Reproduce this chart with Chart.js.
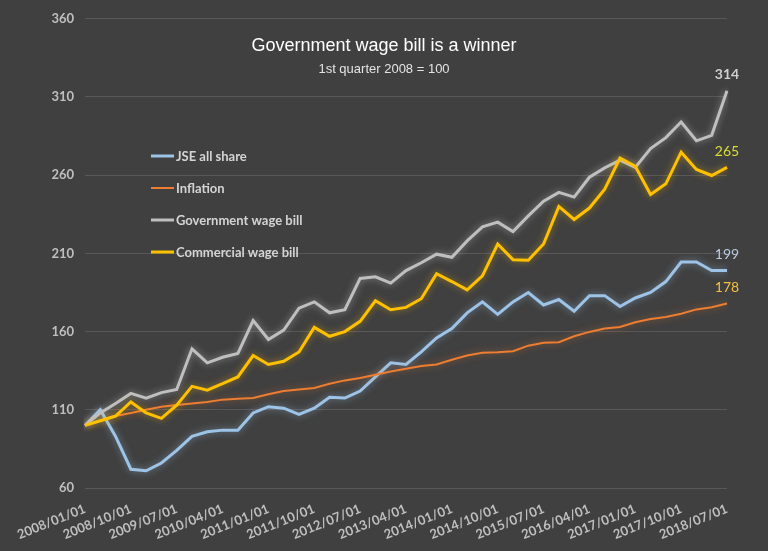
<!DOCTYPE html>
<html>
<head>
<meta charset="utf-8">
<script src="https://cdn.jsdelivr.net/npm/chart.js@4"></script>
<style>
  html, body { margin: 0; padding: 0; background: #404040; }
  #wrap { width: 768px; height: 551px; }
</style>
</head>
<body>
<div id="wrap"><canvas id="wageChart" width="768" height="551"></canvas></div>
<script>
// quarterly index, 1st quarter 2008 = 100
const quarters = [
  '2008/01/01','2008/04/01','2008/07/01','2008/10/01','2009/01/01','2009/04/01','2009/07/01','2009/10/01',
  '2010/01/01','2010/04/01','2010/07/01','2010/10/01','2011/01/01','2011/04/01','2011/07/01','2011/10/01',
  '2012/01/01','2012/04/01','2012/07/01','2012/10/01','2013/01/01','2013/04/01','2013/07/01','2013/10/01',
  '2014/01/01','2014/04/01','2014/07/01','2014/10/01','2015/01/01','2015/04/01','2015/07/01','2015/10/01',
  '2016/01/01','2016/04/01','2016/07/01','2016/10/01','2017/01/01','2017/04/01','2017/07/01','2017/10/01',
  '2018/01/01','2018/04/01','2018/07/01'
];

const jseAllShare = [100, 110, 93, 72, 71, 76, 84, 93, 96, 97, 97, 108, 112, 111, 107, 111,
  118, 117.5, 122, 131, 140, 139, 147, 156, 162, 172, 179, 171, 179, 185,
  177, 180.5, 173, 183, 183, 176, 181.5, 185, 192, 204.5, 204.5, 199, 199];

const inflation = [100, 103, 106, 108, 110, 112, 113, 114, 115, 116.5, 117, 117.5, 120, 122, 123, 124,
  126.7, 128.8, 130.3, 132.4, 134.5, 136.2, 138, 139, 142, 144.7, 146.4, 146.8, 147.5, 151,
  152.8, 153.2, 157, 159.8, 162, 163, 166, 168, 169.4, 171.4, 174.2, 175.6, 178];

const govWageBill = [100, 108, 114, 120.5, 117.5, 121, 123, 149, 140, 143.6, 146, 167, 155, 161, 175, 179,
  172, 174, 194, 195, 191, 199, 204, 209.5, 207.5, 218, 227, 230, 224, 234,
  243.4, 249, 246, 258.7, 264.7, 269.6, 265, 277, 284, 294, 282, 285.5, 314];

const commWageBill = [100, 103, 106, 115, 108, 104.5, 113, 125, 122.5, 126.7, 131, 144.7, 139, 141, 147, 162.7,
  157, 160, 166.6, 179.7, 174, 175.5, 181, 197, 192, 186.7, 195.6, 216, 206, 205.6,
  216, 240, 231.7, 239, 251, 271, 265.7, 247.7, 254.5, 274.7, 263.7, 259.8, 265];

const seriesNames = ['JSE all share', 'Inflation', 'Government wage bill', 'Commercial wage bill'];
const endLabels = ['199', '178', '314', '265'];

const yMin = 60, yMax = 360, yStep = 50;

// --- styling ---
const lineColors = ['#9dc3e6', '#ed7d31', '#bfbfbf', '#ffc000'];
const glowColors = ['rgba(157,195,230,0.55)', 'rgba(237,125,49,0.5)', 'rgba(220,220,220,0.5)', 'rgba(255,192,0,0.5)'];
const endLabelColors = ['#b8cce4', '#f2c040', '#d0d0d0', '#dcdc34'];
const labelFont = 'Lato, "Open Sans", sans-serif';

// soft glow around each line
const glowPlugin = {
  id: 'glow',
  beforeDatasetDraw(chart, args) {
    const ctx = chart.ctx;
    ctx.save();
    ctx.shadowColor = glowColors[args.index];
    ctx.shadowBlur = 7;
  },
  afterDatasetDraw(chart) {
    chart.ctx.restore();
  }
};

// title, legend inside plot and end-of-line value labels
const decorPlugin = {
  id: 'decor',
  afterDraw(chart) {
    const ctx = chart.ctx;
    ctx.save();
    ctx.textAlign = 'center';
    ctx.textBaseline = 'middle';
    ctx.fillStyle = '#ffffff';
    ctx.font = '18px "Liberation Sans", Arial, sans-serif';
    ctx.fillText('Government wage bill is a winner', 384, 46);
    ctx.fillStyle = '#e4e4e4';
    ctx.font = '13px "Liberation Sans", Arial, sans-serif';
    ctx.fillText('1st quarter 2008 = 100', 384, 69);

    // legend
    const legY = [156, 188, 220, 252];
    ctx.textAlign = 'left';
    ctx.font = 'bold 13px ' + labelFont;
    chart.data.datasets.forEach((ds, i) => {
      ctx.strokeStyle = lineColors[i];
      ctx.lineWidth = i === 1 ? 2 : 3;
      ctx.beginPath();
      ctx.moveTo(151, legY[i]);
      ctx.lineTo(174, legY[i]);
      ctx.stroke();
      ctx.fillStyle = '#d4d4d4';
      ctx.fillText(ds.label, 176, legY[i] + 1);
    });

    // last value labels
    ctx.textAlign = 'center';
    chart.data.datasets.forEach((ds, i) => {
      const pts = chart.getDatasetMeta(i).data;
      const last = pts[pts.length - 1];
      ctx.fillStyle = endLabelColors[i];
      ctx.font = (i === 2 ? 'bold ' : '') + '14px ' + labelFont;
      ctx.fillText(endLabels[i], last.x, last.y - 16);
    });
    ctx.restore();
  }
};

const seriesData = [jseAllShare, inflation, govWageBill, commWageBill];
const drawOrder = [3, 2, 1, 0];

const chart = new Chart(document.getElementById('wageChart').getContext('2d'), {
  type: 'line',
  data: {
    labels: quarters,
    datasets: seriesData.map((d, i) => ({
      label: seriesNames[i],
      data: d,
      borderColor: lineColors[i],
      borderWidth: i === 1 ? 2 : 3,
      pointRadius: 0,
      tension: 0,
      fill: false,
      order: drawOrder[i]
    }))
  },
  options: {
    responsive: false,
    animation: false,
    layout: { padding: { top: 17, right: 41, left: 0, bottom: 0 } },
    plugins: {
      legend: { display: false },
      title: { display: false },
      tooltip: { enabled: false }
    },
    scales: {
      x: {
        grid: { display: false },
        border: { display: false },
        afterFit(scale) { scale.height = 63; },
        ticks: {
          autoSkip: false,
          minRotation: 22,
          maxRotation: 22,
          padding: 5,
          color: '#bfbfbf',
          font: { family: labelFont, size: 13, weight: 'bold' },
          callback(value, index) { return index % 3 === 0 ? quarters[index] : ''; }
        }
      },
      y: {
        min: yMin,
        max: yMax,
        afterFit(scale) { scale.width = 85; },
        border: { display: false },
        grid: { color: '#585858', lineWidth: 1, drawTicks: false },
        ticks: {
          stepSize: yStep,
          padding: 11,
          color: '#bfbfbf',
          font: { family: labelFont, size: 13, weight: 'bold' }
        }
      }
    }
  },
  plugins: [glowPlugin, decorPlugin]
});
</script>
</body>
</html>
